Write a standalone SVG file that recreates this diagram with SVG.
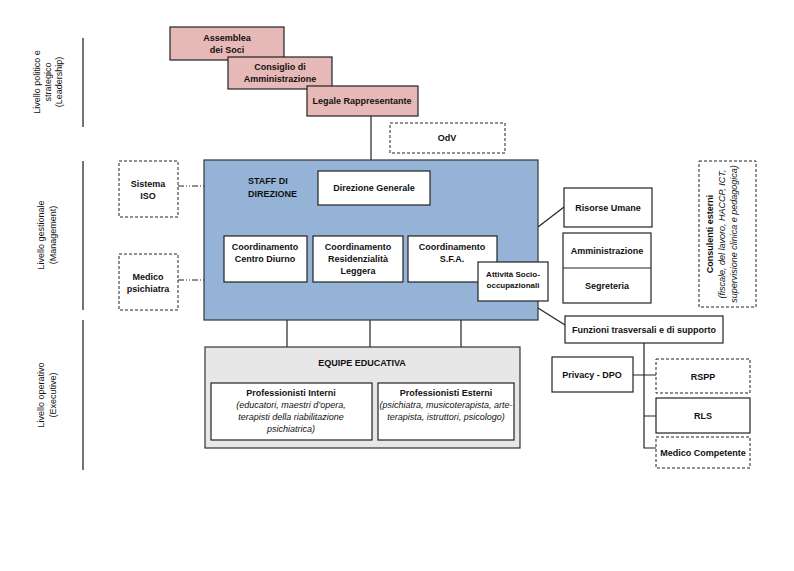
<svg xmlns="http://www.w3.org/2000/svg" width="794" height="571" viewBox="0 0 794 571">
<style>
text{font-family:"Liberation Sans",Arial,sans-serif;font-size:9px;font-weight:bold;fill:#111;text-anchor:middle}
.it{font-style:italic;font-weight:normal}
.n{font-weight:normal}
.box{fill:#fff;stroke:#222;stroke-width:1.2}
.pink{fill:#e6b8b7;stroke:#222;stroke-width:1.2}
.dash{fill:#fff;stroke:#222;stroke-width:1;stroke-dasharray:3,2}
.ln{stroke:#222;stroke-width:1.2;fill:none}
.dd{stroke:#222;stroke-width:1;fill:none;stroke-dasharray:6,2,1,2,1,2}
.lvl{stroke:#444;stroke-width:1.5}
</style>
<rect width="794" height="571" fill="#fff"/>
<g id="levels">
<line class="lvl" x1="83" y1="38" x2="83" y2="127"/>
<line class="lvl" x1="83" y1="161" x2="83" y2="310"/>
<line class="lvl" x1="83" y1="320" x2="83" y2="470"/>
<text class="n" transform="translate(40,82) rotate(-90)">Livello politico e</text>
<text class="n" transform="translate(51,82) rotate(-90)">strategico</text>
<text class="n" transform="translate(62,82) rotate(-90)">(Leadership)</text>
<text class="n" transform="translate(44,235) rotate(-90)">Livello gestionale</text>
<text class="n" transform="translate(56,235) rotate(-90)">(Management)</text>
<text class="n" transform="translate(44,395) rotate(-90)">Livello operativo</text>
<text class="n" transform="translate(56,395) rotate(-90)">(Executive)</text>
</g>
<g id="connectors">
<line class="ln" x1="371" y1="116" x2="371" y2="171"/>
<path class="ln" d="M371 205V225M257 236V225H483V236"/>
<line class="dd" x1="178" y1="186" x2="242" y2="186"/>
<line class="dd" x1="178" y1="280" x2="224" y2="280"/>
<line class="ln" x1="538" y1="227" x2="564" y2="207"/>
<line class="ln" x1="538" y1="308" x2="565" y2="325"/>
<path class="ln" d="M287 320V347M370 320V347M461 320V347"/>
<path class="ln" d="M644 343V448H656M644 416H656M633 375H656"/>
</g>
<g id="blue"><rect x="204" y="160" width="334" height="160" fill="#95b3d7" stroke="#333" stroke-width="1.2"/>
<text x="248" y="184" style="text-anchor:start">STAFF DI</text><text x="248" y="197" style="text-anchor:start">DIREZIONE</text></g>
<g id="assemblea"><rect class="pink" x="170" y="27" width="114" height="33"/><text x="227" y="41">Assemblea</text><text x="227" y="53">dei Soci</text></g>
<g id="consiglio"><rect class="pink" x="228" y="57" width="104" height="32"/><text x="280" y="70">Consiglio di</text><text x="280" y="82">Amministrazione</text></g>
<g id="legale"><rect class="pink" x="307" y="86" width="111" height="30"/><text x="362" y="104">Legale Rappresentante</text></g>
<g id="odv"><rect class="dash" x="390" y="123" width="115" height="30"/><text x="447" y="141">OdV</text></g>
<g id="direzione"><rect class="box" x="318" y="171" width="112" height="34"/><text x="374" y="191">Direzione Generale</text></g>
<g id="iso"><rect class="dash" x="119" y="161" width="59" height="56"/><text x="148" y="187">Sistema</text><text x="148" y="199">ISO</text></g>
<g id="medico"><rect class="dash" x="119" y="254" width="59" height="56"/><text x="148" y="280">Medico</text><text x="148" y="292">psichiatra</text></g>
<g id="cd"><rect class="box" x="224" y="236" width="83" height="46"/><text x="265" y="250">Coordinamento</text><text x="265" y="262">Centro Diurno</text></g>
<g id="rl"><rect class="box" x="313" y="236" width="90" height="46"/><text x="358" y="250">Coordinamento</text><text x="358" y="262">Residenzialità</text><text x="358" y="274">Leggera</text></g>
<g id="sfa"><rect class="box" x="408" y="236" width="89" height="46"/><text x="452" y="250">Coordinamento</text><text x="452" y="262">S.F.A.</text></g>
<g id="socio"><rect class="box" x="478" y="262" width="70" height="39"/><text x="513" y="277" style="font-size:8px">Attività Socio-</text><text x="513" y="288" style="font-size:8px">occupazionali</text></g>
<g id="ru"><rect class="box" x="564" y="188" width="88" height="39"/><text x="608" y="211">Risorse Umane</text></g>
<g id="amm"><rect class="box" x="563" y="233" width="88" height="70"/><line class="ln" x1="563" y1="268" x2="651" y2="268"/><text x="607" y="254">Amministrazione</text><text x="607" y="289">Segreteria</text></g>
<g id="consulenti"><rect class="dash" x="699" y="161" width="57" height="146"/>
<text transform="translate(713,234) rotate(-90)">Consulenti esterni</text>
<text class="it" transform="translate(725,234) rotate(-90)">(fiscale, del lavoro, HACCP, ICT,</text>
<text class="it" transform="translate(737,234) rotate(-90)">supervisione clinica e pedagogica)</text></g>
<g id="funzioni"><rect class="box" x="565" y="316" width="158" height="27"/><text x="644" y="333">Funzioni trasversali e di supporto</text></g>
<g id="equipe"><rect x="205" y="347" width="315" height="101" fill="#e7e7e7" stroke="#333" stroke-width="1.2"/><text x="362" y="366">EQUIPE EDUCATIVA</text>
<rect class="box" x="211" y="383" width="161" height="57"/><text x="291" y="396">Professionisti Interni</text><text class="it" x="291" y="408">(educatori, maestri d’opera,</text><text class="it" x="291" y="420">terapisti della riabilitazione</text><text class="it" x="291" y="432">psichiatrica)</text>
<rect class="box" x="378" y="383" width="136" height="57"/><text x="446" y="396">Professionisti Esterni</text><text class="it" x="446" y="408">(psichiatra, musicoterapista, arte-</text><text class="it" x="446" y="420">terapista, istruttori, psicologo)</text></g>
<g id="privacy"><rect class="box" x="552" y="357" width="81" height="35"/><text x="592" y="378">Privacy - DPO</text></g>
<g id="rspp"><rect class="dash" x="656" y="359" width="94" height="34"/><text x="703" y="380">RSPP</text></g>
<g id="rls"><rect class="box" x="656" y="398" width="94" height="35"/><text x="703" y="419">RLS</text></g>
<g id="mc"><rect class="dash" x="656" y="437" width="94" height="31"/><text x="703" y="456">Medico Competente</text></g>
</svg>
